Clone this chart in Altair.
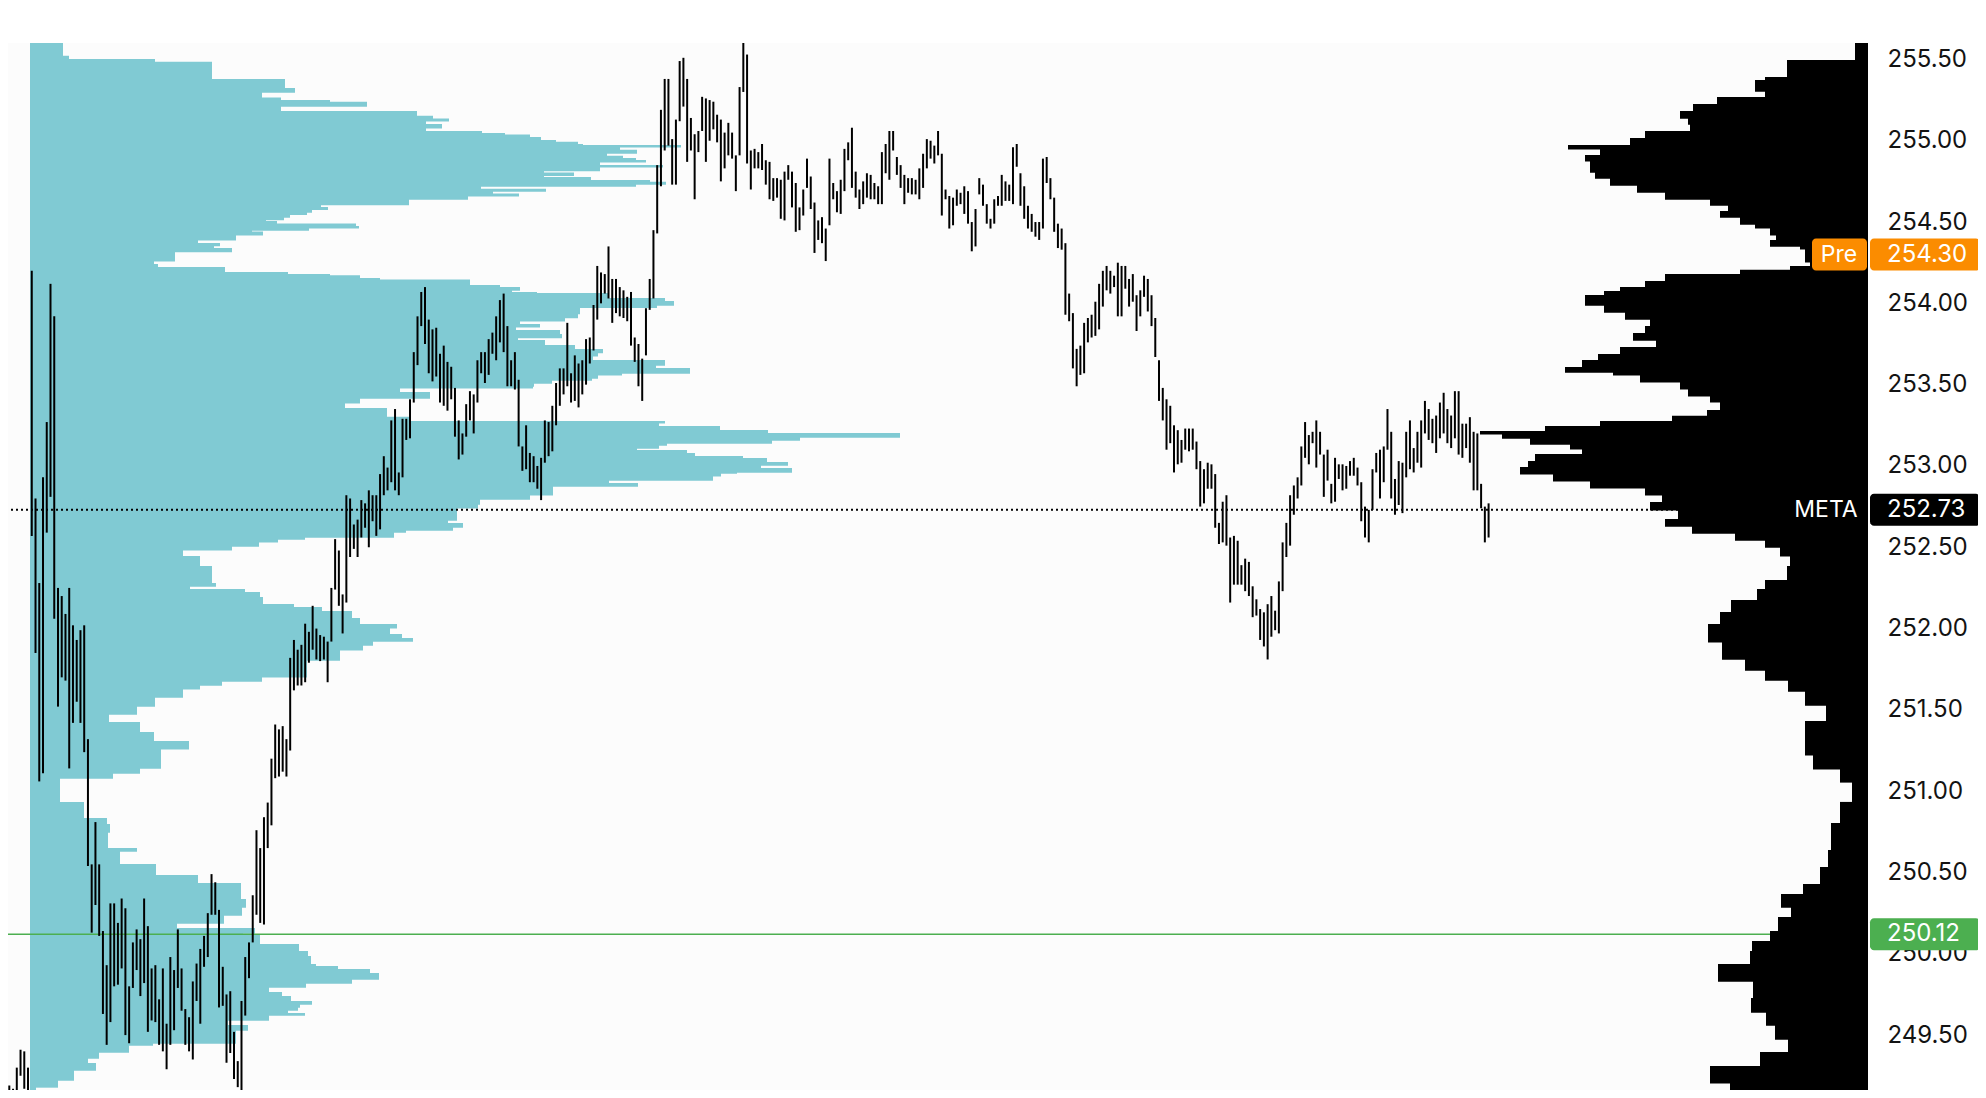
import altair as alt
import pandas as pd

# ---------------- data ----------------
# 1-minute bars: (high, low)
bar_hl = [
(249.19,249.05),(249.17,249.05),(249.30,249.08),(249.41,249.25),(249.40,249.17),(249.30,249.10),
(254.20,252.57),(252.80,251.85),(252.28,251.06),(252.93,251.11),(253.27,252.59),(254.12,252.81),
(253.92,252.06),(252.25,251.52),(252.20,251.70),(252.09,251.68),(252.25,251.14),(252.02,251.42),
(251.93,251.55),(251.99,251.42),(252.02,251.24),(251.32,250.54),(250.55,250.13),(250.81,250.30),
(250.55,250.11),(250.14,249.63),(249.93,249.44),(250.31,249.58),(250.31,249.80),(250.19,249.81),
(250.34,249.91),(250.28,249.50),(249.80,249.45),(250.07,249.79),(250.15,249.90),(250.09,249.74),
(250.34,249.82),(250.17,249.52),(249.91,249.59),(249.93,249.58),(249.72,249.44),(249.91,249.40),
(249.57,249.29),(249.98,249.44),(249.90,249.53),(250.15,249.79),(249.91,249.65),(249.66,249.44),
(249.61,249.40),(249.83,249.35),(249.94,249.71),(250.03,249.57),(250.11,249.92),(250.25,249.98),
(250.49,250.24),(250.44,250.24),(250.27,249.67),(249.92,249.68),(249.75,249.33),(249.77,249.39),
(249.52,249.23),(249.34,249.18),(249.71,249.16),(249.98,249.62),(250.07,249.85),(250.36,250.07),
(250.76,250.24),(250.65,250.19),(250.84,250.18),(250.93,250.65),(251.20,250.79),(251.41,251.08),
(251.38,251.09),(251.40,251.12),(251.32,251.09),(251.82,251.25),(251.93,251.62),(251.87,251.65),
(251.90,251.65),(252.03,251.67),(251.98,251.79),(252.14,251.87),(252.00,251.81),(251.96,251.80),
(251.95,251.81),(251.92,251.67),(252.25,251.92),(252.55,252.24),(252.48,252.14),(252.21,251.97),
(252.82,252.16),(252.80,252.44),(252.64,252.49),(252.67,252.44),(252.79,252.56),(252.77,252.62),
(252.85,252.50),(252.82,252.66),(252.82,252.57),(252.95,252.61),(253.06,252.82),(252.99,252.85),
(253.28,252.90),(253.35,252.85),(252.96,252.82),(253.29,252.93),(253.29,253.16),(253.41,253.17),
(253.70,253.39),(253.92,253.62),(254.07,253.86),(254.10,253.75),(253.90,253.57),(253.84,253.52),
(253.85,253.55),(253.69,253.39),(253.74,253.37),(253.64,253.34),(253.61,253.41),(253.48,253.18),
(253.28,253.04),(253.20,253.07),(253.38,253.18),(253.46,253.28),(253.44,253.20),(253.65,253.39),
(253.70,253.57),(253.70,253.51),(253.78,253.56),(253.82,253.69),(253.92,253.65),(254.02,253.76),
(254.06,253.70),(253.86,253.49),(253.65,253.49),(253.70,253.47),(253.53,253.12),(253.12,252.97),
(253.25,252.98),(253.08,252.90),(253.06,252.90),(253.00,252.86),(253.05,252.79),(253.28,253.02),
(253.27,253.06),(253.37,253.09),(253.51,253.25),(253.60,253.37),(253.60,253.44),(253.88,253.49),
(253.57,253.39),(253.68,253.40),(253.63,253.36),(253.65,253.44),(253.78,253.50),(253.79,253.63),
(253.99,253.71),(254.23,253.90),(254.19,254.00),(254.18,254.06),(254.35,254.03),(254.15,253.88),
(254.15,253.94),(254.10,253.92),(254.08,253.91),(254.04,253.89),(254.07,253.74),(253.79,253.64),
(253.75,253.49),(253.66,253.40),(253.97,253.68),(254.15,253.96),(254.45,254.03),(254.85,254.43),
(255.19,254.72),(255.38,254.94),(255.38,254.97),(255.01,254.73),(255.13,254.73),(255.49,255.12),
(255.51,255.21),(255.38,254.87),(255.14,254.94),(255.04,254.64),(255.06,254.93),(255.27,255.06),
(255.26,254.87),(255.25,255.00),(255.24,255.07),(255.16,254.99),(255.13,254.75),(255.05,254.83),
(255.11,254.91),(255.05,254.89),(254.91,254.69),(255.33,254.91),(255.61,255.30),(255.53,254.86),
(254.94,254.70),(254.95,254.83),(254.93,254.83),(254.98,254.82),(254.88,254.73),(254.87,254.64),
(254.77,254.63),(254.77,254.65),(254.76,254.52),(254.81,254.51),(254.85,254.76),(254.81,254.59),
(254.74,254.44),(254.59,254.45),(254.70,254.54),(254.89,254.71),(254.78,254.58),(254.62,254.31),
(254.51,254.39),(254.53,254.37),(254.46,254.26),(254.89,254.48),(254.74,254.64),(254.69,254.56),
(254.76,254.55),(254.95,254.69),(254.99,254.88),(255.08,254.71),(254.81,254.65),(254.70,254.58),
(254.75,254.61),(254.80,254.65),(254.79,254.64),(254.74,254.64),(254.72,254.61),(254.93,254.61),
(254.98,254.80),(255.06,254.76),(255.06,254.94),(254.90,254.79),(254.85,254.71),(254.79,254.61),
(254.77,254.68),(254.77,254.67),(254.76,254.67),(254.83,254.64),(254.92,254.71),(255.01,254.83),
(255.00,254.89),(254.97,254.86),(255.06,254.91),(254.92,254.54),(254.70,254.64),(254.66,254.46),
(254.65,254.48),(254.70,254.60),(254.68,254.61),(254.72,254.55),(254.69,254.49),(254.50,254.32),
(254.58,254.35),(254.77,254.67),(254.73,254.60),(254.61,254.49),(254.52,254.46),(254.64,254.49),
(254.66,254.60),(254.79,254.60),(254.75,254.63),(254.73,254.63),(254.96,254.61),(254.98,254.84),
(254.80,254.60),(254.72,254.52),(254.60,254.46),(254.55,254.44),(254.50,254.41),(254.50,254.39),
(254.89,254.46),(254.90,254.74),(254.77,254.64),(254.65,254.44),(254.49,254.34),(254.46,254.33),
(254.37,253.93),(254.06,253.89),(253.94,253.60),(253.72,253.49),(253.74,253.56),(253.88,253.57),
(253.91,253.76),(253.93,253.79),(254.01,253.80),(254.12,253.84),(254.20,253.98),(254.23,254.08),
(254.20,254.06),(254.17,254.10),(254.25,253.92),(254.23,253.92),(254.23,254.09),(254.15,253.98),
(254.18,254.01),(254.05,253.83),(254.08,253.92),(254.17,254.04),(254.15,253.95),(254.05,253.86),
(253.91,253.67),(253.65,253.40),(253.48,253.28),(253.41,253.10),(253.37,253.14),(253.25,252.96),
(253.22,253.01),(253.16,253.02),(253.23,253.10),(253.23,253.09),(253.23,253.10),(253.15,252.98),
(253.03,252.75),(252.98,252.77),(253.02,252.86),(253.01,252.86),(252.95,252.62),(252.65,252.52),
(252.78,252.53),(252.82,252.51),(252.56,252.16),(252.57,252.27),(252.54,252.27),(252.39,252.27),
(252.43,252.23),(252.41,252.20),(252.26,252.07),(252.18,252.08),(252.12,251.93),(252.10,251.89),
(252.15,251.81),(252.20,251.95),(252.11,251.99),(252.29,251.97),(252.53,252.23),(252.65,252.44),
(252.82,252.51),(252.88,252.70),(252.93,252.80),(253.12,252.88),(253.27,253.05),(253.19,253.01),
(253.21,253.14),(253.28,252.99),(253.21,253.07),(253.07,252.81),(253.10,252.91),(252.89,252.77),
(253.05,252.78),(253.01,252.92),(253.01,252.85),(253.00,252.86),(253.03,252.94),(253.05,252.94),
(252.99,252.88),(252.90,252.66),(252.75,252.56),(252.73,252.53),(252.98,252.73),(253.08,252.96),
(253.10,252.80),(253.12,252.90),(253.35,253.10),(253.21,252.80),(252.92,252.70),(253.03,252.76),
(253.02,252.71),(253.21,252.93),(253.28,252.98),(253.11,252.96),(253.21,253.02),(253.28,252.99),
(253.40,253.20),(253.35,253.16),(253.29,253.14),(253.31,253.08),(253.39,253.17),(253.45,253.20),
(253.35,253.14),(253.31,253.11),(253.46,253.17),(253.46,253.07),(253.26,253.05),(253.26,253.11),
(253.30,253.02),(253.21,252.85),(253.20,252.85),(252.89,252.74),(252.75,252.53),(252.77,252.56),
]

# left (cyan) volume profile: (row top price, volume)
left_profile = [
(255.602,33),(255.522,39),(255.503,125),(255.485,182),(255.380,255),(255.325,265),(255.300,232),
(255.266,251),(255.251,300),(255.239,337),(255.214,251),(255.183,387),(255.153,403),(255.137,419),
(255.122,396),(255.103,412),(255.079,396),(255.060,452),(255.048,475),(255.039,500),(255.023,511),
(255.005,526),(254.993,548),(254.980,553),(254.974,651),(254.962,590),(254.944,607),(254.925,577),
(254.907,593),(254.894,606),(254.882,616),(254.870,570),(254.851,633),(254.839,570),(254.817,514),
(254.805,544),(254.787,514),(254.777,561),(254.759,620),(254.747,636),(254.734,606),(254.722,451),
(254.704,516),(254.691,463),(254.676,489),(254.661,438),(254.642,379),(254.608,291),(254.593,298),
(254.578,282),(254.562,277),(254.547,260),(254.531,254),(254.516,236),(254.507,247),(254.491,326),
(254.476,329),(254.464,279),(254.451,222),(254.442,233),(254.421,206),(254.390,168),(254.371,190),
(254.356,184),(254.341,202),(254.319,145),(254.261,124),(254.242,128),(254.224,195),(254.193,258),
(254.181,300),(254.172,330),(254.156,350),(254.147,440),(254.113,470),(254.101,490),(254.082,482),
(254.070,507),(254.064,579),(254.033,635),(254.015,644),(253.990,627),(253.975,550),(253.938,548),
(253.913,535),(253.892,490),(253.873,510),(253.855,486),(253.836,530),(253.812,532),(253.790,488),
(253.775,515),(253.744,545),(253.720,573),(253.698,568),(253.677,563),(253.652,635),(253.621,626),
(253.603,660),(253.572,592),(253.560,568),(253.541,562),(253.529,522),(253.510,504),(253.492,503),
(253.480,370),(253.455,400),(253.418,330),(253.388,315),(253.357,357),(253.302,380),(253.277,635),
(253.265,629),(253.246,690),(253.221,738),(253.203,870),(253.178,770),(253.160,742),(253.141,637),
(253.129,629),(253.110,607),(253.098,657),(253.080,665),(253.061,713),(253.049,737),(253.025,758),
(253.006,731),(252.988,762),(252.963,707),(252.957,691),(252.939,683),(252.914,579),(252.895,608),
(252.877,523),(252.822,500),(252.797,450),(252.766,448),(252.742,427),(252.668,418),(252.649,433),
(252.625,423),(252.606,376),(252.594,364),(252.563,275),(252.551,248),(252.533,229),(252.508,202),
(252.484,153),(252.447,170),(252.385,182),(252.280,186),(252.262,160),(252.244,215),(252.225,230),
(252.194,233),(252.151,264),(252.133,292),(252.108,322),(252.065,330),(252.028,367),(252.004,360),
(251.967,372),(251.942,383),(251.924,343),(251.899,333),(251.869,310),(251.807,277),(251.703,232),
(251.678,192),(251.653,170),(251.629,153),(251.579,125),(251.524,107),(251.475,79),(251.426,110),
(251.364,124),(251.309,159),(251.260,131),(251.192,131),(251.143,110),(251.112,83),(251.081,30),
(250.934,54),(250.835,77),(250.798,80),(250.749,78),(250.651,107),(250.632,90),(250.552,126),
(250.485,168),(250.435,211),(250.337,216),(250.288,212),(250.239,194),(250.189,147),(250.159,225),
(250.128,213),(250.116,230),(250.060,269),(250.017,278),(249.986,281),(249.937,286),(249.925,308),
(249.906,340),(249.882,349),(249.845,322),(249.820,276),(249.796,239),(249.765,252),(249.740,261),
(249.710,282),(249.691,270),(249.673,268),(249.654,258),(249.636,275),(249.623,239),(249.593,198),
(249.562,218),(249.531,206),(249.451,123),(249.439,99),(249.396,69),(249.359,58),(249.328,66),
(249.285,44),(249.224,28),(249.181,6),
]
left_profile_end = 249.150

# right (black) volume profile: (row top price, volume)
right_profile = [
(255.602,13),(255.497,81),(255.392,103),(255.374,113),(255.306,103),(255.269,151),(255.226,175),
(255.183,188),(255.140,180),(255.103,178),(255.060,223),(255.017,238),(254.974,300),(254.950,268),
(254.913,283),(254.876,278),(254.808,273),(254.771,258),(254.728,231),(254.685,203),(254.642,158),
(254.605,140),(254.568,148),(254.531,128),(254.488,113),(254.464,98),(254.421,92),(254.390,98),
(254.353,68),(254.335,63),(254.255,58),(254.230,78),(254.206,128),(254.181,203),(254.138,223),
(254.101,248),(254.076,264),(254.052,283),(253.990,264),(253.947,243),(253.904,218),(253.861,223),
(253.818,235),(253.775,212),(253.732,248),(253.689,270),(253.652,286),(253.609,303),(253.578,255),
(253.560,228),(253.517,188),(253.474,180),(253.431,158),(253.394,148),(253.344,161),(253.308,196),
(253.277,268),(253.246,323),(253.215,388),(253.197,366),(253.172,338),(253.135,298),(253.105,286),
(253.074,333),(253.031,340),(252.994,348),(252.951,315),(252.908,278),(252.865,223),(252.822,206),
(252.779,218),(252.730,190),(252.674,203),(252.631,176),(252.588,133),(252.545,103),(252.502,88),
(252.447,78),(252.385,81),(252.299,103),(252.244,111),(252.176,137),(252.102,148),(252.028,160),
(251.918,146),(251.813,123),(251.745,103),(251.684,80),(251.616,63),(251.530,42),(251.432,63),
(251.303,63),(251.223,55),(251.137,28),(251.057,16),(250.934,28),(250.805,37),(250.725,37),
(250.639,40),(250.534,48),(250.429,65),(250.368,87),(250.288,77),(250.226,90),(250.140,98),
(250.079,116),(250.017,118),(249.937,150),(249.833,115),(249.728,117),(249.642,102),(249.562,93),
(249.476,80),(249.396,108),(249.310,158),(249.206,138),
]
right_profile_end = 249.100

price_ticks = [249.5, 250.0, 250.5, 251.0, 251.5, 252.0, 252.5, 253.0, 253.5, 254.0, 254.5, 255.0, 255.5]
last_price = 252.73
pre_price = 254.30
level_price = 250.12
symbol = "META"
pre_text = "Pre"

# ---------------- layout ----------------
W, H = 1860, 1047
Y_DOMAIN = [249.1624, 255.601]
px_per_price = H / (Y_DOMAIN[1] - Y_DOMAIN[0])
half_box = 16 / px_per_price
overlap = 0.7 / px_per_price

CYAN = "#80cad3"
ORANGE = "#fb8c00"
GREEN = "#4caf50"
FONT = "Inter"

yscale = alt.Scale(domain=Y_DOMAIN, zero=False, nice=False)
yaxis = alt.Axis(orient="right", values=price_ticks, format=".2f", labelFont=FONT,
                 labelFontSize=24, labelColor="#131313", labelPadding=19, ticks=False,
                 domain=False, grid=False, title=None, labelAlign="left", labelBaseline="middle")


def Y(field):
    return alt.Y(field, type="quantitative", scale=yscale, axis=yaxis)


def profile_frame(rows, end):
    recs = []
    for k, (top, vol) in enumerate(rows):
        bottom = rows[k + 1][0] - overlap if k + 1 < len(rows) else end
        recs.append({"top": top, "bottom": bottom, "vol": vol, "zero": 0})
    return pd.DataFrame(recs)


bars_df = pd.DataFrame({"i": list(range(len(bar_hl))),
                        "high": [h for h, l in bar_hl],
                        "low": [l for h, l in bar_hl]})
lp_df = profile_frame(left_profile, left_profile_end)
rp_df = profile_frame(right_profile, right_profile_end)

left = alt.Chart(lp_df).mark_rect(color=CYAN, clip=True).encode(
    x=alt.X("zero:Q", scale=alt.Scale(domain=[0, 1000], range=[22, 1022]), axis=None),
    x2="vol:Q",
    y=Y("top"),
    y2="bottom:Q",
)

right = alt.Chart(rp_df).mark_rect(color="black", clip=True).encode(
    x=alt.X("zero:Q", scale=alt.Scale(domain=[0, 1000], range=[W, W - 1000]), axis=None),
    x2="vol:Q",
    y=Y("top"),
    y2="bottom:Q",
)

dotted = alt.Chart(pd.DataFrame({"p": [last_price]})).mark_rule(
    color="black", strokeWidth=2, strokeDash=[2, 3]).encode(y=Y("p"))

green_line = alt.Chart(pd.DataFrame({"p": [level_price]})).mark_rule(
    color=GREEN, strokeWidth=1.5).encode(y=Y("p"))

bars = alt.Chart(bars_df).mark_rule(color="black", strokeWidth=2, clip=True).encode(
    x=alt.X("i:Q", scale=alt.Scale(domain=[-0.347, 496.31], nice=False, zero=False), axis=None),
    y=Y("low"),
    y2="high:Q",
)

box_df = pd.DataFrame([
    {"p": pre_price, "x0": 1804, "x1": 1859, "c": ORANGE},
    {"p": pre_price, "x0": 1862, "x1": 1972, "c": ORANGE},
    {"p": last_price, "x0": 1778, "x1": 1859, "c": "#000000"},
    {"p": last_price, "x0": 1862, "x1": 1972, "c": "#000000"},
    {"p": level_price, "x0": 1862, "x1": 1972, "c": GREEN},
])
box_df["top"] = box_df["p"] + half_box
box_df["bottom"] = box_df["p"] - half_box

box_layers = []
for _, r in box_df.iterrows():
    box_layers.append(
        alt.Chart(pd.DataFrame([r])).mark_rect(color=r["c"], cornerRadius=4).encode(
            x=alt.value(r["x0"]), x2=alt.value(r["x1"]),
            y=Y("top"), y2="bottom:Q"))

price_labels = pd.DataFrame({"p": [pre_price, last_price, level_price],
                             "t": [f"{pre_price:.2f}", f"{last_price:.2f}", f"{level_price:.2f}"]})
price_text = alt.Chart(price_labels).mark_text(
    font=FONT, fontSize=24, color="white", align="left", baseline="middle").encode(
    x=alt.value(1879), y=Y("p"), text="t:N")

name_labels = pd.DataFrame({"p": [pre_price, last_price], "t": [pre_text, symbol],
                            "xc": [1831, 1818]})
name_text = alt.Chart(name_labels).mark_text(
    font=FONT, fontSize=23, color="white", align="center", baseline="middle").encode(
    x=alt.X("xc:Q", scale=alt.Scale(domain=[0, W], range=[0, W]), axis=None),
    y=Y("p"), text="t:N")

chart = alt.layer(left, dotted, green_line, bars, right, *box_layers, price_text, name_text).resolve_scale(
    x="independent"
).properties(
    width=W, height=H,
    autosize=alt.AutoSizeParams(type="none"),
    padding={"left": 0, "top": 35, "right": 110, "bottom": 0},
    background="white",
).configure_view(stroke=None, fill="#fcfcfc")

chart.save("out.html", embed_options={"renderer": "svg", "actions": False})
